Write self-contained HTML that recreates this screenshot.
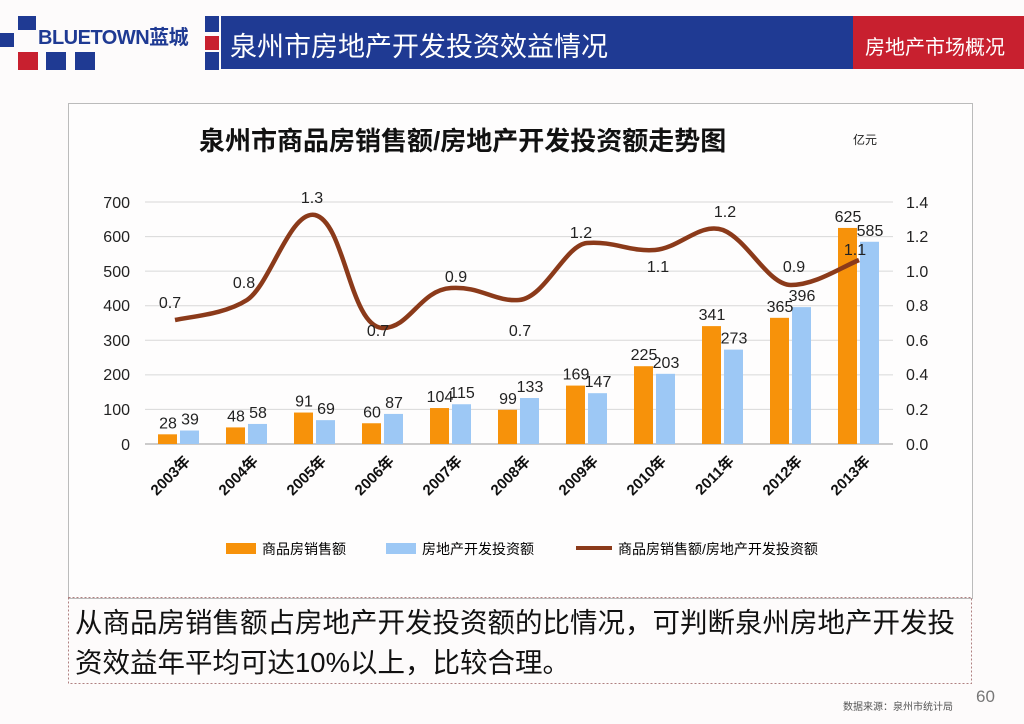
<!DOCTYPE html>
<html><head><meta charset="utf-8"><style>
body{margin:0;width:1024px;height:724px;background:#fdfbfb;font-family:"Liberation Sans","Noto Sans CJK SC",sans-serif;position:relative;overflow:hidden}
.abs{position:absolute}
</style></head><body>
<!-- header -->
<div class="abs" style="left:221px;top:16px;width:632px;height:53px;background:#1f3a93"></div>
<div class="abs" style="left:853px;top:16px;width:171px;height:53px;background:#c8202f"></div>
<div class="abs" style="left:230px;top:25px;color:#fff;font-size:27px;white-space:nowrap">泉州市房地产开发投资效益情况</div>
<div class="abs" style="left:865px;top:31px;color:#fff;font-size:20px;white-space:nowrap">房地产市场概况</div>
<div class="abs" style="left:18px;top:16px;width:18px;height:14px;background:#1f3a93"></div>
<div class="abs" style="left:0;top:33px;width:14px;height:14px;background:#1f3a93"></div>
<div class="abs" style="left:18px;top:52px;width:20px;height:18px;background:#c8202f"></div>
<div class="abs" style="left:46px;top:52px;width:20px;height:18px;background:#1f3a93"></div>
<div class="abs" style="left:75px;top:52px;width:20px;height:18px;background:#1f3a93"></div>
<div class="abs" style="left:205px;top:16px;width:14px;height:16px;background:#1f3a93"></div>
<div class="abs" style="left:205px;top:36px;width:14px;height:14px;background:#c8202f"></div>
<div class="abs" style="left:205px;top:52px;width:14px;height:18px;background:#1f3a93"></div>
<div class="abs" style="left:38px;top:21px;color:#1f3a93;font-size:20px;font-weight:bold;letter-spacing:-0.5px;white-space:nowrap">BLUETOWN蓝城</div>
<!-- chart box -->
<div class="abs" style="left:68px;top:103px;width:903px;height:494px;border:1px solid #bbb;background:rgba(255,255,255,0.5)"></div>
<svg class="abs" style="left:0;top:0" width="1024" height="724">
<text x="199" y="150" font-size="26" font-weight="bold" fill="#111">泉州市商品房销售额/房地产开发投资额走势图</text>
<text x="853" y="144" font-size="12" fill="#222">亿元</text>
<g stroke="#d8d8d8" stroke-width="1">
<line x1="145" x2="893" y1="202" y2="202"/><line x1="145" x2="893" y1="236.6" y2="236.6"/><line x1="145" x2="893" y1="271.1" y2="271.1"/><line x1="145" x2="893" y1="305.7" y2="305.7"/><line x1="145" x2="893" y1="340.3" y2="340.3"/><line x1="145" x2="893" y1="374.9" y2="374.9"/><line x1="145" x2="893" y1="409.4" y2="409.4"/>
</g>
<line x1="145" x2="893" y1="444" y2="444" stroke="#999"/>
<g font-size="16" fill="#222" text-anchor="end">
<text x="130" y="208">700</text><text x="130" y="242">600</text><text x="130" y="277">500</text><text x="130" y="311">400</text><text x="130" y="346">300</text><text x="130" y="380">200</text><text x="130" y="415">100</text><text x="130" y="450">0</text>
</g>
<g font-size="16" fill="#222" text-anchor="start">
<text x="906" y="208">1.4</text><text x="906" y="242">1.2</text><text x="906" y="277">1.0</text><text x="906" y="311">0.8</text><text x="906" y="346">0.6</text><text x="906" y="380">0.4</text><text x="906" y="415">0.2</text><text x="906" y="450">0.0</text>
</g>
<g id="bars"></g>
<path d="M175,320 C195,316 225,314 247,300 C270,285 290,210 315,215 C345,222 350,328 383,328 C410,328 420,290 451,288 C480,286 495,302 519,300 C545,298 565,245 587,243 C615,241 630,252 655,250 C680,248 700,222 723,230 C748,240 768,285 791,285 C815,285 840,268 859,260" fill="none" stroke="#8b3a1a" stroke-width="4.5"/>
<g font-size="16" fill="#222" text-anchor="middle">
<text x="170" y="308">0.7</text><text x="244" y="288">0.8</text><text x="312" y="203">1.3</text><text x="378" y="336">0.7</text><text x="456" y="282">0.9</text><text x="520" y="336">0.7</text><text x="581" y="238">1.2</text><text x="658" y="272">1.1</text><text x="725" y="217">1.2</text><text x="794" y="272">0.9</text><text x="855" y="255">1.1</text>
</g>
<!-- legend -->
<rect x="226" y="543" width="30" height="11" fill="#f7920a"/><text x="262" y="554" font-size="14">商品房销售额</text>
<rect x="386" y="543" width="30" height="11" fill="#9dc8f5"/><text x="422" y="554" font-size="14">房地产开发投资额</text>
<line x1="576" x2="612" y1="548" y2="548" stroke="#8b3a1a" stroke-width="4"/><text x="618" y="554" font-size="14">商品房销售额/房地产开发投资额</text>
<rect x="68.5" y="597.5" width="903" height="86" fill="none" stroke="#b08080" stroke-dasharray="2,2"/>
</svg>
<div class="abs" style="left:75px;top:603px;font-size:27.5px;color:#111;line-height:40px;white-space:nowrap">从商品房销售额占房地产开发投资额的比情况，可判断泉州房地产开发投<br>资效益年平均可达10%以上，比较合理。</div>
<div class="abs" style="left:843px;top:698px;font-size:10px;color:#555">数据来源：泉州市统计局</div>
<div class="abs" style="left:976px;top:687px;font-size:17px;color:#777">60</div>
<script>
var a=[28,48,91,60,104,99,169,225,341,365,625],b=[39,58,69,87,115,133,147,203,273,396,585];
var s='',k=0.3457;
for(var i=0;i<11;i++){var c=179+68*i;var ha=a[i]*k,hb=b[i]*k;
s+='<rect x="'+(c-21)+'" y="'+(444-ha)+'" width="19" height="'+ha+'" fill="#f7920a"/>';
s+='<rect x="'+(c+1)+'" y="'+(444-hb)+'" width="19" height="'+hb+'" fill="#9dc8f5"/>';
s+='<text x="'+(c-11)+'" y="'+(444-ha-6)+'" font-size="16" text-anchor="middle" fill="#222">'+a[i]+'</text>';
s+='<text x="'+(c+11)+'" y="'+(444-hb-6)+'" font-size="16" text-anchor="middle" fill="#222">'+b[i]+'</text>';
s+='<text transform="translate('+(c+12)+',462) rotate(-45)" font-size="15" font-weight="bold" text-anchor="end" fill="#111">'+(2003+i)+'年</text>';}
document.getElementById('bars').innerHTML=s;
</script>
</body></html>
